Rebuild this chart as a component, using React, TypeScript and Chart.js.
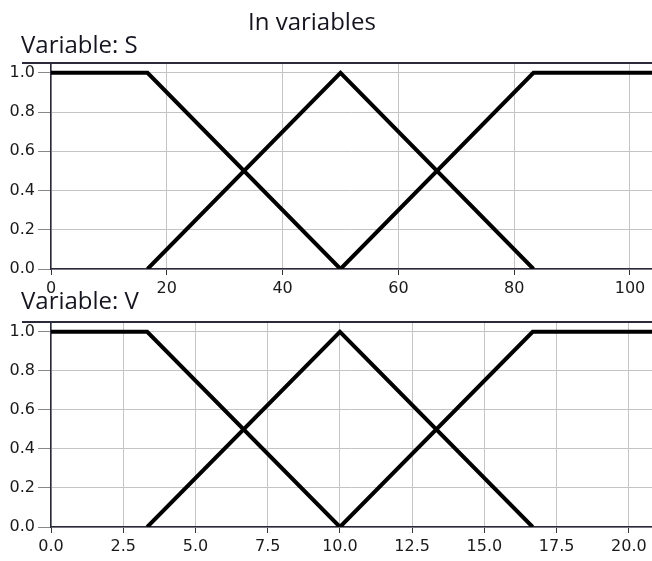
import React, { useEffect, useRef } from "react";
import { Chart, registerables } from "chart.js";

Chart.register(...registerables);

// Variable S membership functions
const sLowX = [0, 16.67, 50];
const sLowY = [1, 1, 0];
const sMidX = [16.67, 50, 83.33];
const sMidY = [0, 1, 0];
const sHighX = [50, 83.33, 104];
const sHighY = [0, 1, 1];

// Variable V membership functions
const vLowX = [0, 3.33, 10];
const vLowY = [1, 1, 0];
const vMidX = [3.33, 10, 16.67];
const vMidY = [0, 1, 0];
const vHighX = [10, 16.67, 20.8];
const vHighY = [0, 1, 1];

// Axis ticks
const sTicks = [0, 20, 40, 60, 80, 100];
const sTickLabels = ["0", "20", "40", "60", "80", "100"];
const vTicks = [0, 2.5, 5, 7.5, 10, 12.5, 15, 17.5, 20];
const vTickLabels = ["0.0", "2.5", "5.0", "7.5", "10.0", "12.5", "15.0", "17.5", "20.0"];
const yTicks = [0, 0.2, 0.4, 0.6, 0.8, 1.0];
const yTickLabels = ["0.0", "0.2", "0.4", "0.6", "0.8", "1.0"];

const S_MAX = 103.8;
const V_MAX = 20.8;

const pts = (xs: number[], ys: number[]) => xs.map((x, i) => ({ x, y: ys[i] }));

const TICK_FONT = { family: "'DejaVu Sans'", size: 16 };
const SPINE = "#2a2a3a";
const GRID = "#c4c4c4";

function makeConfig(
  series: { x: number[]; y: number[] }[],
  xMax: number,
  xTicks: number[],
  xLabels: string[],
  padTop: number,
  xAxisH: number
): any {
  return {
    type: "line",
    data: {
      datasets: series.map((s) => ({
        data: pts(s.x, s.y),
        borderColor: "#000",
        backgroundColor: "#000",
        borderWidth: 4,
        pointRadius: 0,
        tension: 0,
        fill: false,
      })),
    },
    options: {
      animation: false,
      responsive: false,
      events: [],
      layout: { padding: { top: padTop, left: 0, right: 0, bottom: 0 } },
      plugins: { legend: { display: false }, tooltip: { enabled: false }, title: { display: false } },
      scales: {
        x: {
          type: "linear",
          min: 0,
          max: xMax,
          afterBuildTicks: (sc: any) => {
            sc.ticks = xTicks.map((v) => ({ value: v }));
          },
          afterFit: (sc: any) => {
            sc.height = xAxisH;
          },
          ticks: {
            font: TICK_FONT,
            color: "#1a1a1a",
            padding: 4,
            maxRotation: 0,
            autoSkip: false,
            callback: (_v: any, i: number) => xLabels[i],
          },
          grid: { color: GRID, lineWidth: 1, tickColor: "#333", tickLength: 6 },
          border: { display: true, color: SPINE, width: 1.5 },
        },
        y: {
          type: "linear",
          min: 0,
          max: 1.05,
          afterBuildTicks: (sc: any) => {
            sc.ticks = yTicks.map((v) => ({ value: v }));
          },
          afterFit: (sc: any) => {
            sc.width = 51;
          },
          ticks: {
            font: TICK_FONT,
            color: "#1a1a1a",
            padding: 3,
            autoSkip: false,
            callback: (_v: any, i: number) => yTickLabels[i],
          },
          grid: { color: GRID, lineWidth: 1, tickColor: "#888", tickLength: 13 },
          border: { display: true, color: SPINE, width: 1.5 },
        },
      },
    },
  };
}

export default function App() {
  const refA = useRef<HTMLCanvasElement>(null);
  const refB = useRef<HTMLCanvasElement>(null);

  useEffect(() => {
    const a = new Chart(
      refA.current!,
      makeConfig(
        [
          { x: sLowX, y: sLowY },
          { x: sMidX, y: sMidY },
          { x: sHighX, y: sHighY },
        ],
        S_MAX,
        sTicks,
        sTickLabels,
        63,
        31
      )
    );
    const b = new Chart(
      refB.current!,
      makeConfig(
        [
          { x: vLowX, y: vLowY },
          { x: vMidX, y: vMidY },
          { x: vHighX, y: vHighY },
        ],
        V_MAX,
        vTicks,
        vTickLabels,
        22,
        34
      )
    );
    return () => {
      a.destroy();
      b.destroy();
    };
  }, []);

  const titleFont: React.CSSProperties = {
    position: "absolute",
    fontFamily: "'Open Sans', sans-serif",
    fontSize: 24,
    lineHeight: 1,
    color: "#15151f",
    whiteSpace: "nowrap",
  };

  return (
    <div
      style={{
        position: "absolute",
        left: 0,
        top: 0,
        width: 652,
        height: 561,
        background: "#fff",
        overflow: "hidden",
      }}
    >
      <canvas ref={refA} width={652} height={300} style={{ position: "absolute", left: 0, top: 0 }} />
      <canvas ref={refB} width={652} height={261} style={{ position: "absolute", left: 0, top: 300 }} />
      <div style={{ position: "absolute", left: 22, top: 62, width: 630, height: 1.5, background: SPINE }} />
      <div style={{ position: "absolute", left: 22, top: 321, width: 630, height: 1.5, background: SPINE }} />
      <div style={{ ...titleFont, left: 248, top: 9 }}>In variables</div>
      <div style={{ ...titleFont, left: 21, top: 32 }}>Variable: S</div>
      <div style={{ ...titleFont, left: 21, top: 288 }}>Variable: V</div>
    </div>
  );
}
